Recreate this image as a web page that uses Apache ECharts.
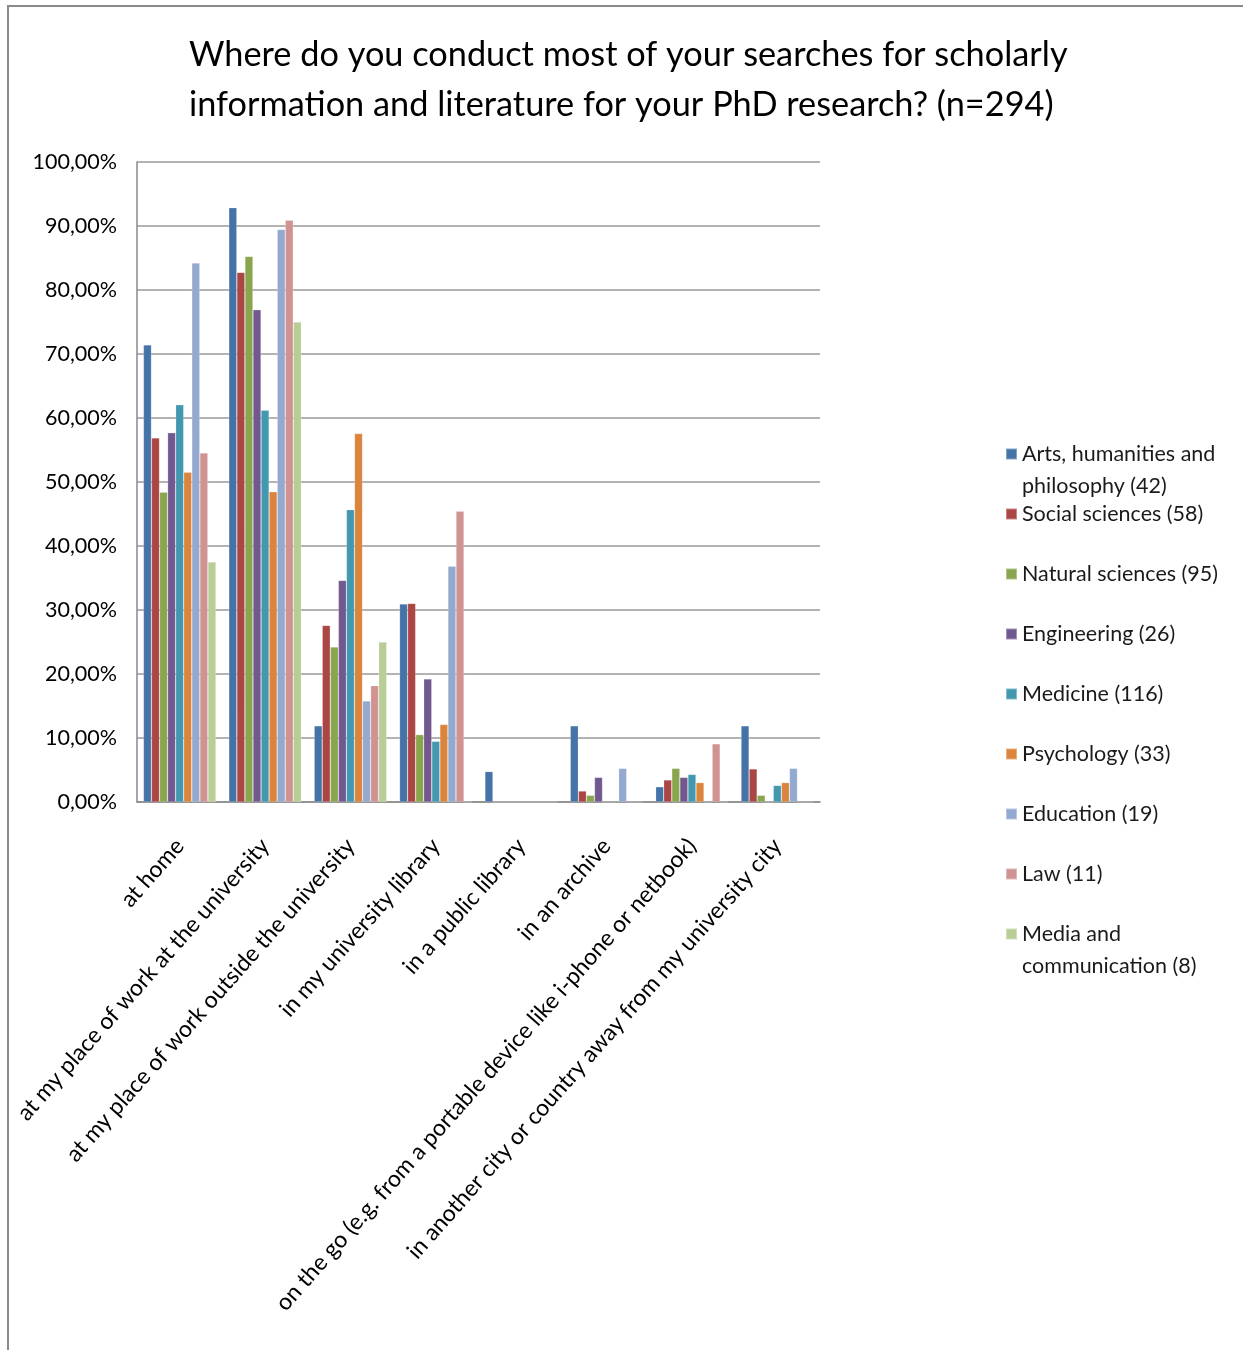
<!DOCTYPE html>
<html>
<head>
<meta charset="utf-8">
<script src="https://cdn.jsdelivr.net/npm/echarts@6/dist/echarts.min.js"></script>
<style>
html,body{margin:0;padding:0;background:#fff;}
#frame{position:absolute;left:7px;top:5px;width:1300px;height:1400px;border:2px solid #8a8a8a;box-sizing:border-box;}
#chart{position:absolute;left:0;top:0;width:1243px;height:1350px;}
</style>
</head>
<body>
<div id="frame"></div>
<div id="chart"></div>
<script>
const categories = [
  "at home",
  "at my place of work at the university",
  "at my place of work outside the university",
  "in my university library",
  "in a public library",
  "in an archive",
  "on the go (e.g. from a portable device like i-phone or netbook)",
  "in another city or country away from my university city"
];
const seriesNames = [
  "Arts, humanities and philosophy (42)",
  "Social sciences (58)",
  "Natural sciences (95)",
  "Engineering (26)",
  "Medicine (116)",
  "Psychology (33)",
  "Education (19)",
  "Law (11)",
  "Media and communication (8)"
];
const arts        = [71.43, 92.86, 11.90, 30.95, 4.76, 11.90, 2.38, 11.90];
const social      = [56.90, 82.76, 27.59, 31.03, 0, 1.72, 3.45, 5.17];
const natural     = [48.42, 85.26, 24.21, 10.53, 0, 1.05, 5.26, 1.05];
const engineering = [57.69, 76.92, 34.62, 19.23, 0, 3.85, 3.85, 0];
const medicine    = [62.07, 61.21, 45.69, 9.48, 0, 0, 4.31, 2.59];
const psychology  = [51.52, 48.48, 57.58, 12.12, 0, 0, 3.03, 3.03];
const education   = [84.21, 89.47, 15.79, 36.84, 0, 5.26, 0, 5.26];
const law         = [54.55, 90.91, 18.18, 45.45, 0, 0, 9.09, 0];
const media       = [37.50, 75.00, 25.00, 0, 0, 0, 0, 0];
const yTicks = [0, 10, 20, 30, 40, 50, 60, 70, 80, 90, 100];

const values = [arts, social, natural, engineering, medicine, psychology, education, law, media];
const colors = ["#4572A7", "#AA4643", "#89A54E", "#71588F", "#4198AF", "#DB843D", "#93A9CF", "#D19392", "#B9CD96"];
const legendLabels = [
  "Arts, humanities and\nphilosophy (42)",
  "Social sciences (58)",
  "Natural sciences (95)",
  "Engineering (26)",
  "Medicine (116)",
  "Psychology (33)",
  "Education (19)",
  "Law (11)",
  "Media and\ncommunication (8)"
];
const legendCenters = [454, 514, 574, 634, 694, 754, 814, 874, 934];

const FONT = "Lato";
const chart = echarts.init(document.getElementById('chart'), null, {renderer: 'canvas'});

const LH = 32;
const legends = seriesNames.map((name, i) => {
  const multi = legendLabels[i].indexOf("\n") >= 0;
  return {
    orient: 'vertical',
    left: 1005,
    top: multi ? legendCenters[i] - 1.5 * LH : legendCenters[i] - LH / 2,
    padding: 0,
    itemWidth: 11,
    itemHeight: 11,
    itemGap: 0,
    icon: 'rect',
    selectedMode: false,
    data: [name],
    formatter: () => multi ? "\u00a0\n" + legendLabels[i] : legendLabels[i],
    textStyle: {fontFamily: FONT, fontSize: 21.5, color: '#1a1a1a', lineHeight: LH}
  };
});

const option = {
  animation: false,
  color: colors,
  title: {
    text: "Where do you conduct most of your searches for scholarly\ninformation and literature for your PhD research? (n=294)",
    left: 184,
    top: 25,
    textStyle: {fontFamily: FONT, fontSize: 34.3, fontWeight: 'normal', color: '#000', lineHeight: 50}
  },
  legend: legends,
  grid: {left: 137, right: 423, top: 162, bottom: 548, containLabel: false},
  xAxis: {
    type: 'category',
    data: categories,
    axisLine: {lineStyle: {color: '#8a8a8a', width: 1.5}},
    axisTick: {show: false},
    axisLabel: {
      rotate: 48.5, interval: 0, margin: 40,
      fontFamily: FONT, fontSize: 23, color: '#000'
    }
  },
  yAxis: {
    type: 'value',
    min: 0, max: 100, interval: 10,
    axisLine: {show: true, lineStyle: {color: '#8a8a8a', width: 1.5}},
    axisTick: {show: false},
    splitLine: {lineStyle: {color: '#9a9a9a', width: 1.5}},
    axisLabel: {
      margin: 20, fontFamily: FONT, fontSize: 21.5, color: '#000',
      customValues: yTicks,
      formatter: v => v.toFixed(2).replace('.', ',') + '%'
    }
  },
  series: seriesNames.map((name, i) => ({
    name: name,
    type: 'bar',
    data: values[i],
    barGap: '0%',
    barCategoryGap: '15%',
    itemStyle: {color: colors[i], borderColor: 'rgba(255,255,255,0.35)', borderWidth: 0.6}
  }))
};
chart.setOption(option);
</script>
</body>
</html>
